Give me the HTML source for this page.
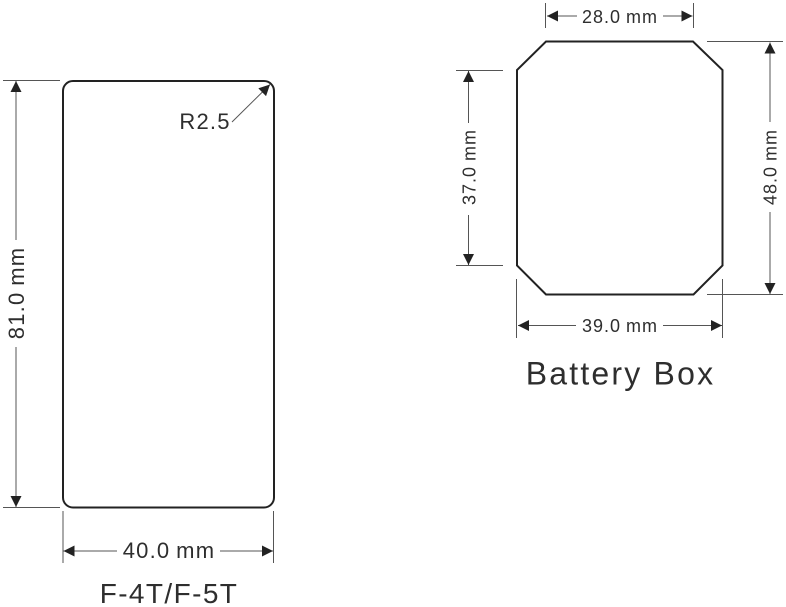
<!DOCTYPE html>
<html>
<head>
<meta charset="utf-8">
<style>
html,body{margin:0;padding:0;background:#fff;width:786px;height:607px;overflow:hidden}
svg{display:block}
text{font-family:"Liberation Sans",sans-serif;fill:#2e2e2e;text-anchor:middle}
</style>
</head>
<body>
<svg width="786" height="607" viewBox="0 0 786 607" xmlns="http://www.w3.org/2000/svg">
<defs>
<marker id="a" markerWidth="11" markerHeight="11" refX="11" refY="5.500" orient="auto-start-reverse" markerUnits="userSpaceOnUse">
<path d="M0 0L11 5.500L0 11Z" fill="#222"/>
</marker>
</defs>
<!-- Left device -->
<rect x="63" y="81" width="211" height="426.500" rx="10" ry="10" fill="none" stroke="#222" stroke-width="2"/>
<g stroke="#555" stroke-width="1" fill="none">
<line x1="3" y1="80.500" x2="60" y2="80.500"/>
<line x1="3" y1="507.500" x2="60" y2="507.500"/>
<line x1="63" y1="511" x2="63" y2="563"/>
<line x1="273.500" y1="511" x2="273.500" y2="563"/>
<line x1="16" y1="81" x2="16" y2="240" marker-start="url(#a)"/>
<line x1="16" y1="347" x2="16" y2="507" marker-end="url(#a)"/>
<line x1="63.500" y1="551" x2="117" y2="551" marker-start="url(#a)"/>
<line x1="220" y1="551" x2="273" y2="551" marker-end="url(#a)"/>
<line x1="232" y1="122" x2="270" y2="84.500" marker-end="url(#a)"/>
</g>
<text transform="translate(24 293) rotate(-90)" font-size="22" letter-spacing="1.200" word-spacing="-1.500">81.0 mm</text>
<text x="169" y="558" font-size="22" letter-spacing="1.200" word-spacing="-1.500">40.0 mm</text>
<text x="205" y="129" font-size="22" letter-spacing="1.200">R2.5</text>
<text x="169" y="603" font-size="28" letter-spacing="1.400">F-4T/F-5T</text>
<!-- Battery box -->
<path d="M546 41.500L693 41.500L722.500 70L722.500 265.500L693.500 294.500L546 294.500L517 265.500L517 70Z" fill="none" stroke="#222" stroke-width="2"/>
<g stroke="#555" stroke-width="1" fill="none">
<line x1="545.500" y1="3" x2="545.500" y2="28"/>
<line x1="693.500" y1="3" x2="693.500" y2="28"/>
<line x1="547" y1="16" x2="577" y2="16" marker-start="url(#a)"/>
<line x1="663" y1="16" x2="692.500" y2="16" marker-end="url(#a)"/>
<line x1="707" y1="41.500" x2="783" y2="41.500"/>
<line x1="707" y1="294.500" x2="783" y2="294.500"/>
<line x1="770" y1="42.500" x2="770" y2="122" marker-start="url(#a)"/>
<line x1="770" y1="212" x2="770" y2="294" marker-end="url(#a)"/>
<line x1="456" y1="70.500" x2="503" y2="70.500"/>
<line x1="456" y1="265.500" x2="503" y2="265.500"/>
<line x1="468.500" y1="71" x2="468.500" y2="123" marker-start="url(#a)"/>
<line x1="468.500" y1="215" x2="468.500" y2="265" marker-end="url(#a)"/>
<line x1="516.500" y1="279" x2="516.500" y2="338"/>
<line x1="722.500" y1="279" x2="722.500" y2="338"/>
<line x1="518" y1="325.500" x2="576" y2="325.500" marker-start="url(#a)"/>
<line x1="663" y1="325.500" x2="722" y2="325.500" marker-end="url(#a)"/>
</g>
<text x="620" y="23" font-size="18" letter-spacing="1" word-spacing="-1">28.0 mm</text>
<text x="620" y="332" font-size="18" letter-spacing="1" word-spacing="-1">39.0 mm</text>
<text transform="translate(475.500 167) rotate(-90)" font-size="18" letter-spacing="1" word-spacing="-1">37.0 mm</text>
<text transform="translate(776.500 167) rotate(-90)" font-size="18" letter-spacing="1" word-spacing="-1">48.0 mm</text>
<text x="620.500" y="384.500" font-size="32" letter-spacing="2.200">Battery Box</text>
</svg>
</body>
</html>
